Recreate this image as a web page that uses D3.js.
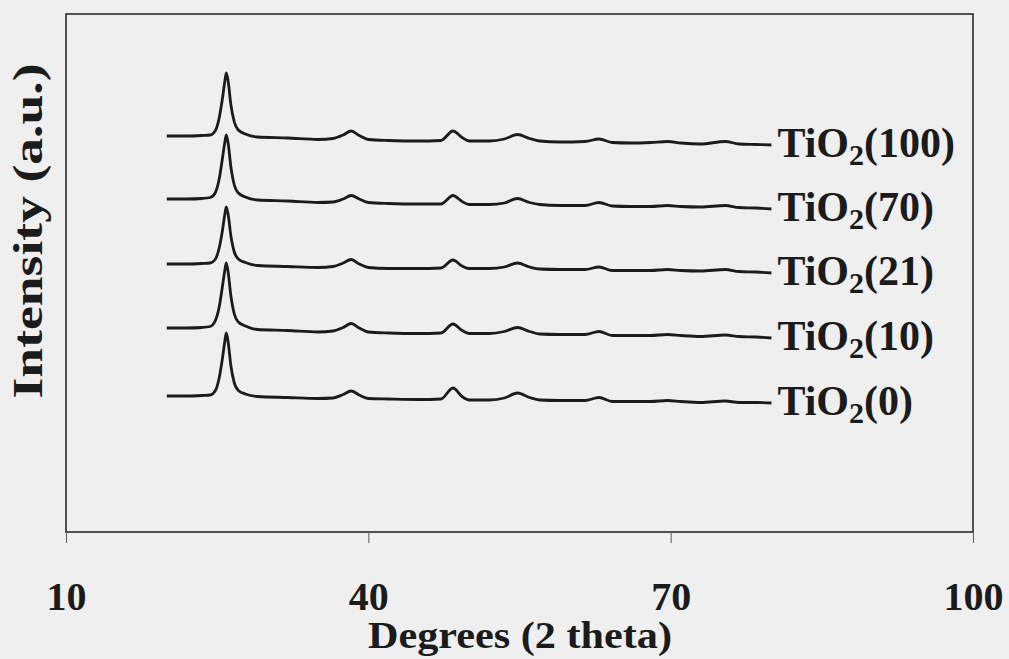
<!DOCTYPE html>
<html><head><meta charset="utf-8">
<script src="https://cdn.jsdelivr.net/npm/d3@7"></script>
<style>html,body{margin:0;padding:0;background:#efefef;} svg{display:block;}</style>
</head><body>
<svg id="chart" width="1009" height="659"></svg>
<script>
// 2-theta sampling angles (degrees)
const angles = [20, 22, 23.5, 24.3, 24.8, 25.2, 25.5, 25.75, 25.9, 26.1,
  26.35, 26.7, 27.1, 27.8, 29, 32, 35, 36.5, 37.5, 38.3,
  39.1, 40, 42, 45, 47.2, 48.4, 49.3, 50, 52, 53.5,
  54.8, 56, 57, 59, 61.5, 62.9, 64.2, 66, 68, 69.7,
  71, 73, 75.4, 76.8, 78.5, 80];

// Intensities (a.u.)
const int100 = [20, 20, 20.5, 21, 25, 38, 56, 74, 83, 74, 52, 34, 26, 22, 19, 18, 16.5, 17.5, 21, 25, 20.5, 16.5, 15.5, 15, 15.5, 25, 18.5, 15, 15, 17, 21.5, 17.5, 15, 14, 14.5, 17, 13.5, 13, 13.5, 14.5, 13, 12, 14.5, 12, 11.5, 11];
const int70  = [20, 20, 20.5, 21.5, 26, 40, 59, 76, 84, 75, 53, 34, 26, 22, 19, 18, 16.5, 17, 20, 23.5, 20, 16.5, 15.5, 15, 15, 23.5, 17.5, 14.5, 14.5, 16, 20.5, 16.5, 14.5, 13.5, 13.5, 16.5, 13, 12.5, 12.5, 13.5, 12.5, 12, 13.5, 11.5, 11, 10];
const int21  = [20, 20, 20.5, 21, 24.5, 36, 52, 69, 77, 69, 49, 32, 25, 21.5, 18.5, 17.5, 16.5, 17.5, 21, 24.5, 20, 16.5, 15.5, 15.5, 16, 24, 18, 15.5, 15.5, 17, 21, 17, 15, 14.5, 14.5, 17, 13.5, 13.5, 13.5, 14.5, 13.5, 13, 14.5, 12.5, 12, 11];
const int10  = [20, 20, 20.5, 21.5, 27, 41, 60, 77, 85, 75, 53, 34, 26, 22, 18.5, 17.5, 16, 17, 20.5, 24.5, 20, 16, 15, 14.5, 15, 24, 17.5, 14.5, 14.5, 16.5, 20.5, 16.5, 14, 13.5, 13.5, 16.5, 12.5, 12.5, 12.5, 13.5, 12.5, 11.5, 13, 11.5, 11, 10];
const int0   = [20, 20, 20.5, 21, 25, 38, 56, 74, 83, 73, 51, 33, 25.5, 22, 19.5, 18.5, 17.5, 18, 21.5, 25, 21, 17.5, 17, 16.5, 17, 28, 19.5, 16, 16, 18, 23, 18.5, 16, 15.5, 15.5, 18.5, 14.5, 14.5, 14.5, 15.5, 14.5, 13.5, 15, 13.5, 13.5, 13];

const sampleNumbers = ["100", "70", "21", "10", "0"];
const seriesValues = [int100, int70, int21, int10, int0];
const offsets = [376, 313, 248, 184, 116]; // vertical stacking offsets (a.u.)
const xTicks = [10, 40, 70, 100];

const svg = d3.select("#chart");
const FONT = "'Liberation Serif', 'Times New Roman', serif";
const ink = "#1b1b1b";

const x = d3.scaleLinear().domain([10, 100]).range([66, 973]);
const y = d3.scaleLinear().domain([0, 518]).range([532, 14]);

// frame
svg.append("rect")
  .attr("x", x(10)).attr("y", y(518))
  .attr("width", x(100) - x(10)).attr("height", y(0) - y(518))
  .attr("fill", "none").attr("stroke", "#2a2a2a").attr("stroke-width", 1.6);

// x axis
const xAxis = d3.axisBottom(x).tickValues(xTicks).tickSizeInner(11).tickSizeOuter(0).tickPadding(39);
const gx = svg.append("g").attr("transform", `translate(0,${y(0)})`).call(xAxis);
gx.select(".domain").remove();
gx.selectAll(".tick line").attr("stroke", "#666").attr("stroke-width", 1.1);
gx.selectAll(".tick text")
  .attr("font-family", FONT).attr("font-weight", "bold").attr("font-size", 40).attr("fill", ink);

// axis titles
svg.append("text")
  .attr("x", 520).attr("y", 648)
  .attr("text-anchor", "middle")
  .attr("font-family", FONT).attr("font-weight", "bold").attr("font-size", 38).attr("fill", ink)
  .attr("textLength", 304).attr("lengthAdjust", "spacingAndGlyphs")
  .text("Degrees (2 theta)");

svg.append("text")
  .attr("transform", "translate(42,231) rotate(-90)")
  .attr("text-anchor", "middle")
  .attr("font-family", FONT).attr("font-weight", "bold").attr("font-size", 42).attr("fill", ink)
  .attr("textLength", 335).attr("lengthAdjust", "spacingAndGlyphs")
  .text("Intensity (a.u.)");

// series
seriesValues.forEach((vals, i) => {
  const pts = angles.map((a, j) => [a, vals[j] + offsets[i]]);
  const line = d3.line().x(d => x(d[0])).y(d => y(d[1])).curve(d3.curveMonotoneX);
  svg.append("path").datum(pts)
    .attr("d", line)
    .attr("fill", "none").attr("stroke", ink).attr("stroke-width", 2.8)
    .attr("stroke-linejoin", "round");

  const last = pts[pts.length - 1];
  const t = svg.append("text")
    .attr("x", x(last[0]) + 6).attr("y", y(last[1]) + 12)
    .attr("font-family", FONT).attr("font-weight", "bold").attr("font-size", 42).attr("fill", ink);
  t.append("tspan").text("TiO");
  t.append("tspan").attr("font-size", 30).attr("dy", 8).text("2");
  t.append("tspan").attr("dy", -8).text("(" + sampleNumbers[i] + ")");
});
</script>
</body></html>
